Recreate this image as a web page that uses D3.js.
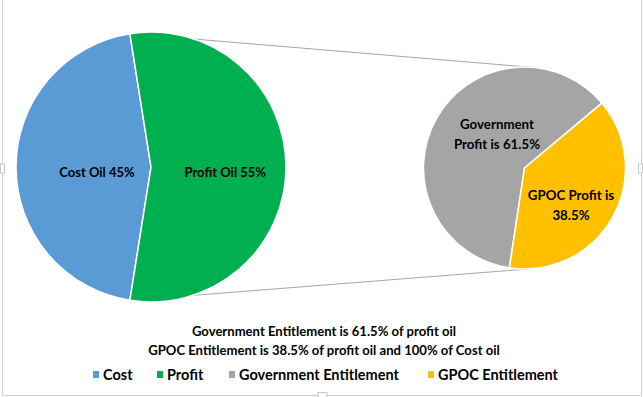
<!DOCTYPE html>
<html>
<head>
<meta charset="utf-8">
<script src="https://cdn.jsdelivr.net/npm/d3@7"></script>
<style>
  html, body { margin: 0; padding: 0; background: #fff; }
  svg { display: block; }
  text { font-family: Lato, "Open Sans", sans-serif; font-weight: bold; fill: #000; }
</style>
</head>
<body>
<svg id="chart" width="643" height="397"></svg>
<script>
// ---- data ----
const primaryCategories = ["Cost Oil", "Profit Oil"];
const primaryValues = [45, 55];
const primaryLabels = ["Cost Oil 45%", "Profit Oil 55%"];

const secondaryCategories = ["Government Profit", "GPOC Profit"];
const secondaryValues = [61.5, 38.5];
const secondaryLabels = [["Government", "Profit is 61.5%"], ["GPOC Profit is", "38.5%"]];

const legendLabels = ["Cost", "Profit", "Government Entitlement", "GPOC Entitlement"];
const noteLines = [
  "Government Entitlement is 61.5% of profit oil",
  "GPOC Entitlement is 38.5% of profit oil and 100% of Cost oil"
];

// ---- style ----
const colors = ["#5B9BD5", "#00B050", "#A5A5A5", "#FFC000"];
const deg = Math.PI / 180;

const svg = d3.select("#chart");

// chart frame
svg.append("rect").attr("x", 2.5).attr("y", -5).attr("width", 639).attr("height", 400.5)
  .attr("fill", "#fff").attr("stroke", "#D0D0D0").attr("stroke-width", 1);
// frame handles
[[0.5, 164, 4, 9], [638.5, 164, 4, 9], [318, 392.5, 9, 5]].forEach(h => {
  svg.append("rect").attr("x", h[0]).attr("y", h[1]).attr("width", h[2]).attr("height", h[3])
    .attr("fill", "#fff").attr("stroke", "#C8C8C8").attr("stroke-width", 1);
});

// ---- primary pie ----
const p = { cx: 151, cy: 167, r: 135 };
const primaryStart = 189 * deg;
const pie1 = d3.pie().sort(null).value(d => d)
  .startAngle(primaryStart).endAngle(primaryStart + 2 * Math.PI);
const arcs1 = pie1(primaryValues);
const arc1 = d3.arc().innerRadius(0).outerRadius(p.r);

// ---- secondary pie ----
const s = { cx: 524.5, cy: 168, r: 101 };
const gpocStart = 50 * deg;
const secStart = gpocStart + (secondaryValues[1] / d3.sum(secondaryValues)) * 2 * Math.PI;
const pie2 = d3.pie().sort(null).value(d => d)
  .startAngle(secStart).endAngle(secStart + 2 * Math.PI);
const arcs2 = pie2(secondaryValues);
const arc2 = d3.arc().innerRadius(0).outerRadius(s.r);

// connector lines from profit slice edges to secondary pie
const profitArc = arcs1[1];
const pt = (c, r, a) => [c.cx + r * Math.sin(a), c.cy - r * Math.cos(a)];
const conTop = [pt(p, p.r, profitArc.startAngle), pt(s, s.r, 7 * deg)];
const conBot = [pt(p, p.r, profitArc.endAngle), pt(s, s.r, 174 * deg)];
svg.append("g").selectAll("line").data([conTop, conBot]).join("line")
  .attr("x1", d => d[0][0]).attr("y1", d => d[0][1])
  .attr("x2", d => d[1][0]).attr("y2", d => d[1][1])
  .attr("stroke", "#A6A6A6").attr("stroke-width", 1);

const g1 = svg.append("g").attr("transform", `translate(${p.cx},${p.cy})`);
g1.selectAll("path").data(arcs1).join("path")
  .attr("d", arc1).attr("fill", (d, i) => colors[i])
  .attr("stroke", "#fff").attr("stroke-width", 1.5).attr("stroke-linejoin", "round");

const g2 = svg.append("g").attr("transform", `translate(${s.cx},${s.cy})`);
g2.selectAll("path").data(arcs2).join("path")
  .attr("d", arc2).attr("fill", (d, i) => colors[i + 2])
  .attr("stroke", "#fff").attr("stroke-width", 1.5).attr("stroke-linejoin", "round");

// ---- data labels ----
const labelRadius1 = [0.40, 0.55];
g1.selectAll("text").data(arcs1).join("text")
  .attr("transform", (d, i) => {
    const a = (d.startAngle + d.endAngle) / 2;
    const r = p.r * labelRadius1[i];
    return `translate(${r * Math.sin(a)},${-r * Math.cos(a) + 5})`;
  })
  .attr("text-anchor", "middle").attr("dy", "0.35em")
  .style("font-size", "13px")
  .text((d, i) => primaryLabels[i]);

const labelPos2 = [[-27.5, -33.5], [46.5, 37.5]];
const lg2 = g2.selectAll("g.lab").data(arcs2).join("g").attr("class", "lab")
  .attr("transform", (d, i) => `translate(${labelPos2[i][0]},${labelPos2[i][1]})`);
lg2.selectAll("text").data((d, i) => secondaryLabels[i].map((t, j) => ({ t, j })))
  .join("text")
  .attr("text-anchor", "middle")
  .attr("y", d => (d.j - 0.5) * 19.5)
  .attr("dy", "0.35em")
  .style("font-size", "13.3px")
  .text(d => d.t);

// ---- notes ----
svg.append("g").selectAll("text").data(noteLines).join("text")
  .attr("x", 324).attr("y", (d, i) => 331 + i * 19).attr("dy", "0.35em")
  .attr("text-anchor", "middle").style("font-size", "13.1px")
  .text(d => d);

// ---- legend ----
const legendX = [93, 157, 229, 428];
const legend = svg.append("g").selectAll("g").data(legendLabels).join("g")
  .attr("transform", (d, i) => `translate(${legendX[i]},374.5)`);
legend.append("rect").attr("x", 0).attr("y", -3.5).attr("width", 6).attr("height", 7)
  .attr("fill", (d, i) => colors[i]);
legend.append("text").attr("x", 10).attr("dy", "0.35em")
  .style("font-size", "14.5px").text(d => d);
</script>
</body>
</html>
